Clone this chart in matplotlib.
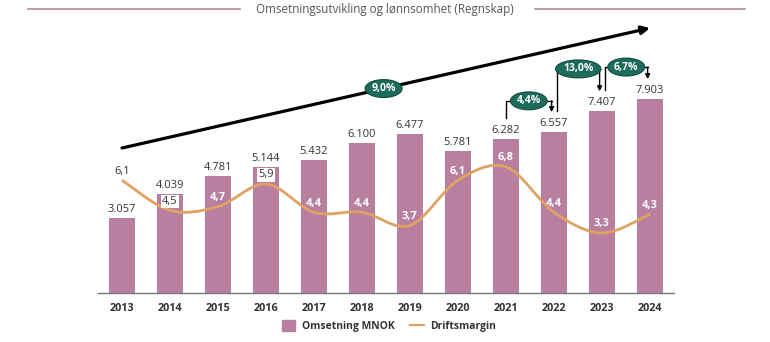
import numpy as np
import matplotlib.pyplot as plt
from matplotlib.path import Path
from matplotlib.patches import PathPatch, Patch
from matplotlib.lines import Line2D

plt.rcParams['font.family'] = ['Open Sans', 'DejaVu Sans']

years = [2013, 2014, 2015, 2016, 2017, 2018, 2019, 2020, 2021, 2022, 2023, 2024]
omsetning = [3057, 4039, 4781, 5144, 5432, 6100, 6477, 5781, 6282, 6557, 7407, 7903]
margin = [6.1, 4.5, 4.7, 5.9, 4.4, 4.4, 3.7, 6.1, 6.8, 4.4, 3.3, 4.3]
boxed_years = [2014, 2016]
dark_years = [2013]
growth_pairs = [(2021, 2022), (2022, 2023), (2023, 2024)]
bracket_lift = [1270, 1720, 1300]   # how high each bracket sits above the target bar

bar_col = '#b87fa0'
line_col = '#dfa263'
green = '#1d6b5b'
txt_col = '#333333'


def nok(v):
    return f"{v:,}".replace(",", ".")


def pct(v):
    return f"{v:.1f}".replace(".", ",")


def smooth_path(xs, ys):
    # catmull-rom style bezier through the points (like excel's smoothed line)
    pts = np.column_stack([xs, ys])
    verts = [pts[0]]
    codes = [Path.MOVETO]
    n = len(pts)
    for i in range(n - 1):
        p0 = pts[max(i - 1, 0)]
        p1 = pts[i]
        p2 = pts[i + 1]
        p3 = pts[min(i + 2, n - 1)]
        c1 = p1 + (p2 - p0) / 6
        c2 = p2 - (p3 - p1) / 6
        verts += [c1, c2, p2]
        codes += [Path.CURVE4] * 3
    return Path(verts, codes)


fig = plt.figure(figsize=(7.7, 3.42), dpi=100)
ax = fig.add_axes([98 / 770, 49 / 342, 576 / 770, 273 / 342])
x = np.arange(len(years))

ax.bar(x, omsetning, width=0.56, color=bar_col, zorder=2)
ax.set_xlim(-0.5, len(years) - 0.5)
ax.set_ylim(0, 11120)
ax.set_yticks([])
for s in ['top', 'left', 'right']:
    ax.spines[s].set_visible(False)
ax.spines['bottom'].set_color('#777777')
ax.spines['bottom'].set_linewidth(1)
ax.set_xticks(x, [str(y) for y in years])
ax.tick_params(axis='x', length=0, pad=7, labelsize=7.8, labelcolor=txt_col)
for t in ax.get_xticklabels():
    t.set_fontweight('bold')

for xi, v in zip(x, omsetning):
    ax.annotate(nok(v), (xi, v), xytext=(0, 2), textcoords='offset points',
                ha='center', va='bottom', fontsize=8, color=txt_col)

ax2 = ax.twinx()
ax2.set_ylim(0.12, 14.59)
ax2.axis('off')
ax2.add_patch(PathPatch(smooth_path(x, margin), fc='none', ec=line_col, lw=2, zorder=3))

for xi, yr, m in zip(x, years, margin):
    if yr in boxed_years:
        ax2.annotate(pct(m), (xi, m), xytext=(0, 6.5), textcoords='offset points',
                     ha='center', va='center', fontsize=8, color=txt_col, zorder=5,
                     bbox=dict(boxstyle='square,pad=0.12', fc='white', ec='none'))
    elif yr in dark_years:
        ax2.annotate(pct(m), (xi, m), xytext=(0, 6.5), textcoords='offset points',
                     ha='center', va='center', fontsize=8, color=txt_col)
    else:
        ax2.annotate(pct(m), (xi, m), xytext=(0, 6.5), textcoords='offset points',
                     ha='center', va='center', fontsize=8, color='white',
                     fontweight='bold', zorder=5)

# overall trend arrow with CAGR
x0, y0 = 0.0, 5906
x1, y1 = 11.0, 10794
ax.annotate('', xy=(x1, y1), xytext=(x0, y0), annotation_clip=False,
            arrowprops=dict(arrowstyle='-|>', lw=2.3, color='black',
                            mutation_scale=12, shrinkA=0, shrinkB=0))
cagr = ((omsetning[-1] / omsetning[0]) ** (1 / (len(years) - 1)) - 1) * 100
xm = 5.45
ym = y0 + (y1 - y0) * (xm - x0) / (x1 - x0)
ell = dict(boxstyle='ellipse,pad=0.08', fc=green, ec='#0f4c40', lw=0.8)
ax.text(xm, ym, pct(cagr) + '%', ha='center', va='center', color='white',
        fontsize=7.5, fontweight='bold', bbox=ell, zorder=6)

# year-on-year growth brackets
for (a, b), lift in zip(growth_pairs, bracket_lift):
    i, j = years.index(a), years.index(b)
    va_, vb = omsetning[i], omsetning[j]
    xa = i + (0.06 if a != growth_pairs[0][0] else 0)
    xb = j - 0.05
    level = vb + lift
    ax.plot([xa, xa, xb], [va_ + 850, level, level], color='black', lw=1, zorder=4)
    ax.annotate('', xy=(xb, vb + 810), xytext=(xb, level), annotation_clip=False,
                arrowprops=dict(arrowstyle='-|>', lw=1, color='black',
                                mutation_scale=7, shrinkA=0, shrinkB=0))
    g = (vb / va_ - 1) * 100
    ax.text((xa + xb) / 2, level, pct(g) + '%', ha='center', va='center',
            color='white', fontsize=7.5, fontweight='bold', bbox=ell, zorder=6)

# title with side rules
ty = 1 - 9 / 342
fig.text(0.5, ty, 'Omsetningsutvikling og lønnsomhet (Regnskap)', ha='center',
         va='center', fontsize=8.4, color='#555555')
for xa, xb in [(28, 240), (535, 745)]:
    fig.add_artist(Line2D([xa / 770, xb / 770], [ty, ty], transform=fig.transFigure,
                          color='#b58aa0', lw=1.2))

handles = [Patch(color=bar_col), Line2D([], [], color=line_col, lw=1.5)]
fig.legend(handles, ['Omsetning MNOK', 'Driftsmargin'], loc='center',
           bbox_to_anchor=(0.505, 16 / 342), ncol=2, frameon=False,
           prop=dict(size=7.5, weight='bold'), handlelength=1.3, handleheight=1.3,
           columnspacing=1.5, handletextpad=0.6, labelcolor=txt_col)

fig.savefig('out.png', dpi=100)
